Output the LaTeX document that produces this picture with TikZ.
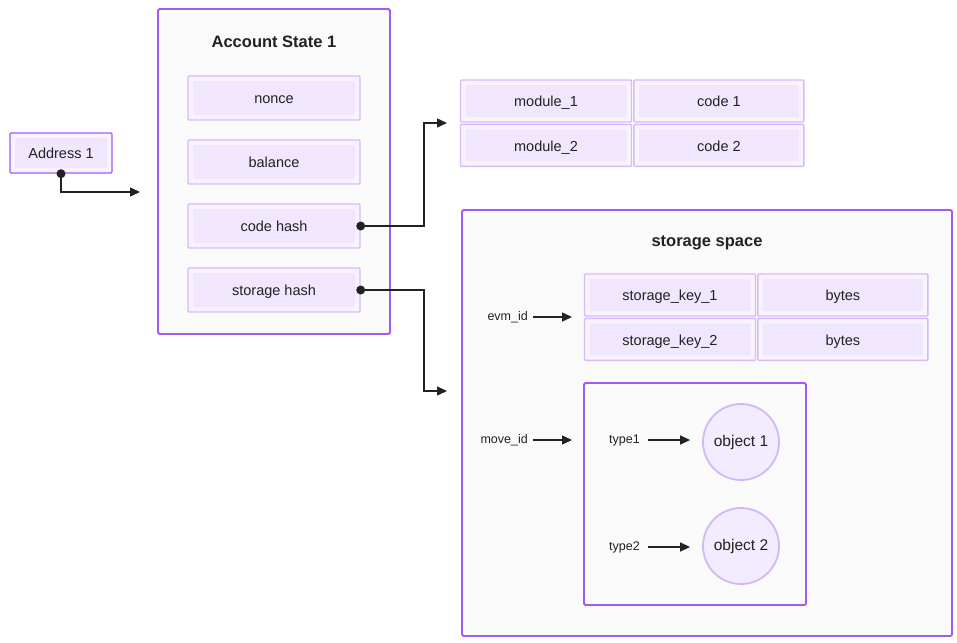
\documentclass[tikz,border=0pt]{standalone}
\usepackage{fontspec}
\setmainfont{Liberation Sans}
\usepackage{tikz}
\usetikzlibrary{positioning}
\usetikzlibrary{arrows.meta}
\definecolor{panelborder}{HTML}{A05AF6}
\definecolor{panelfill}{HTML}{FAFAFA}
\definecolor{cellborder}{HTML}{D9B9FD}
\definecolor{cellband}{HTML}{F8F3FF}
\definecolor{cellfill}{HTML}{F0E6FE}
\definecolor{objborder}{HTML}{D3B7F8}
\definecolor{objfill}{HTML}{F3EBFE}
\definecolor{ink}{HTML}{222222}
\tikzset{>=stealth}
\tikzset{
  line/.style = {draw=ink, line width=1.4pt, -{Triangle[length=10pt,width=9pt]}},
  dot/.style = {fill=ink},
  panel/.style = {draw=panelborder, line width=1.8pt, fill=panelfill, rounded corners=1.5pt},
  cell/.style = {draw=cellborder, line width=1.4pt, fill=cellband, rounded corners=1pt,
    minimum height=42pt, inner sep=0pt, text height=14.5pt, text depth=3pt,
    text=ink, font=\fontsize{14.5}{16}\selectfont,
    path picture={\fill[cellfill] ([shift={(5pt,5pt)}]path picture bounding box.south west)
      rectangle ([shift={(-5pt,-5pt)}]path picture bounding box.north east);}},
  title/.style = {text=ink, font=\fontsize{16.5}{18}\selectfont\bfseries},
  tag/.style = {text=ink, inner sep=2pt, font=\fontsize{12.5}{14}\selectfont},
  obj/.style = {circle, draw=objborder, line width=1.8pt, fill=objfill, minimum size=76pt,
    inner sep=0pt, text=ink, font=\fontsize{15.5}{17}\selectfont}
}
\begin{document}
\begin{tikzpicture}[x=1pt, y=-1pt]
  \useasboundingbox (0,0) rectangle (957,642);
  %% Address
  \node [cell, draw=panelborder, minimum width=102pt, minimum height=40pt] (addr) at (61,153) {Address 1};
  \coordinate (acctin) at (140,192);
  %% Account state
  \draw [panel] (158,9) rectangle (390,334);
  \node [title] (acct) at (274,42) {Account State 1};
  \node [cell, minimum width=172pt, minimum height=44pt] (nonce) at (274,98) {nonce};
  \node [cell, minimum width=172pt, minimum height=44pt] (balance) at (274,162) {balance};
  \node [cell, minimum width=172pt, minimum height=44pt] (codehash) at (274,226) {code hash};
  \node [cell, minimum width=172pt, minimum height=44pt] (storhash) at (274,290) {storage hash};
  %% Modules
  \node [cell, minimum width=171pt] (mod1) at (546,101) {module\_1};
  \node [cell, minimum width=170pt, right=1pt of mod1] (code1) {code 1};
  \node [cell, minimum width=171pt, below=1pt of mod1] (mod2) {module\_2};
  \node [cell, minimum width=170pt, right=1pt of mod2] (code2) {code 2};
  \coordinate (modin) at (447,123);
  %% Storage space
  \draw [panel] (462,210) rectangle (952,636);
  \node [title] (space) at (707,243) {storage space};
  \node [cell, minimum width=171pt] (key1) at (670,295) {storage\_key\_1};
  \node [cell, minimum width=170pt, right=1pt of key1] (bytes1) {bytes};
  \node [cell, minimum width=171pt, below=1pt of key1] (key2) {storage\_key\_2};
  \node [cell, minimum width=170pt, right=1pt of key2] (bytes2) {bytes};
  \coordinate (storin) at (447,391);
  \node [tag, anchor=east] (evm) at (530,317) {evm\_id};
  \coordinate (evmin) at (572,317);
  %% Move objects
  \draw [panel] (584,383) rectangle (806,605);
  \node [tag, anchor=east] (move) at (530,440) {move\_id};
  \coordinate (movein) at (572,440);
  \node [tag, anchor=east] (type1) at (642,440) {type1};
  \node [tag, anchor=east] (type2) at (642,547) {type2};
  \node [obj] (obj1) at (741,442) {object 1};
  \node [obj] (obj2) at (741,546) {object 2};
  %% Flows
  \path [line] (addr.south) |- (acctin);
  \path [line] (codehash.east) -| ([xshift=-23pt]modin) -- (modin);
  \path [line] (storhash.east) -| ([xshift=-23pt]storin) -- (storin);
  \fill [dot] (addr.south) circle (4.5pt);
  \fill [dot] (codehash.east) circle (4.5pt);
  \fill [dot] (storhash.east) circle (4.5pt);
  \path [line] ([xshift=3pt]evm.east) -- (evmin);
  \path [line] ([xshift=3pt]move.east) -- (movein);
  \path [line, shorten >=12pt] ([xshift=6pt]type1.east) -- (obj1.west |- type1.east);
  \path [line, shorten >=12pt] ([xshift=6pt]type2.east) -- (obj2.west |- type2.east);
\end{tikzpicture}
\end{document}
